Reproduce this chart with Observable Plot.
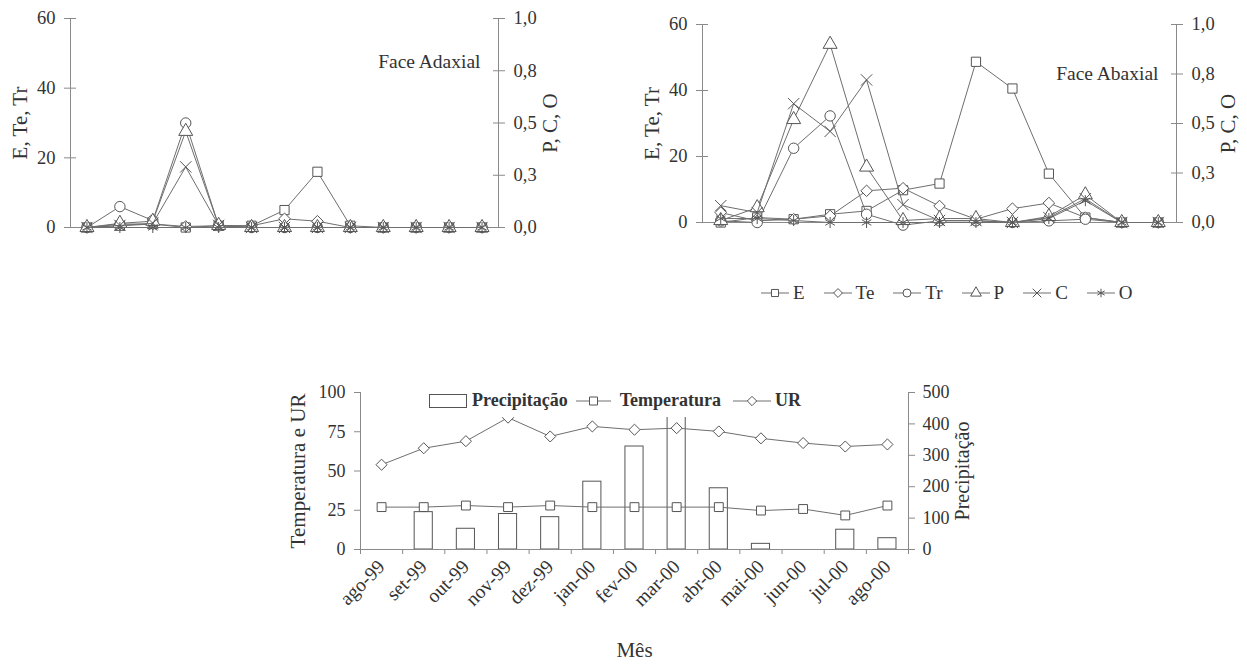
<!DOCTYPE html>
<html><head><meta charset="utf-8">
<script src="https://cdn.jsdelivr.net/npm/d3@7"></script>
<script src="https://cdn.jsdelivr.net/npm/@observablehq/plot@0.6"></script>
<style>
html,body{margin:0;padding:0;background:#fff;}
#root{position:relative;width:1247px;height:671px;overflow:hidden;background:#fff;font-family:"Liberation Serif","Times New Roman",serif;color:#333;}
.legend{position:absolute;display:flex;align-items:center;white-space:nowrap;}
.legend svg{display:block;flex:none;}
</style></head><body><div id="root"></div>
<script>
// ---------- data ----------
const months = ["ago-99","set-99","out-99","nov-99","dez-99","jan-00","fev-00","mar-00","abr-00","mai-00","jun-00","jul-00","ago-00"];
const seriesNames = ["E","Te","Tr","P","C","O"];
const seriesSymbols = ["square","diamond2","circle","triangle","times","asterisk"];
const leftTicks = [0, 20, 40, 60];
const rightTicks = [0, 0.25, 0.5, 0.75, 1];
const rightTickLabels = ["0,0","0,3","0,5","0,8","1,0"];

// Face Adaxial: E, Te, Tr (left axis); P, C, O (right axis)
const adE  = [0, 0.5, 1, 0, 0.5, 0.5, 5, 16, 0.5, 0, 0, 0, 0];
const adTe = [0, 1, 1, 0.3, 0.5, 0.5, 2.5, 1.8, 0, 0, 0, 0, 0];
const adTr = [0, 6, 2, 30, 0.5, 0, 0, 0, 0, 0, 0, 0, 0];
const adP  = [0, 0.02, 0.03, 0.46, 0.01, 0, 0, 0, 0, 0, 0, 0, 0];
const adC  = [0, 0.01, 0.02, 0.29, 0.01, 0, 0, 0, 0, 0, 0, 0, 0];
const adO  = [0, 0, 0, 0, 0, 0, 0, 0, 0, 0, 0, 0, 0];

// Face Abaxial
const abE  = [0, 1.5, 1, 2.5, 3.5, 9.8, 11.8, 48.7, 40.6, 14.8, 1.5, 0, 0];
const abTe = [3, 0.5, 1, 2, 9.6, 10.4, 5, 1, 4.2, 5.9, 1.5, 0, 0];
const abTr = [0.5, 0, 22.5, 32.3, 2.5, -0.8, 0.5, 0.5, 0, 0.5, 1, 0, 0];
const abP  = [0.01, 0.075, 0.52, 0.90, 0.28, 0.01, 0.02, 0.02, 0, 0.03, 0.14, 0, 0];
const abC  = [0.085, 0.05, 0.60, 0.46, 0.72, 0.09, 0.01, 0.01, 0, 0.025, 0.12, 0, 0];
const abO  = [0.02, 0.02, 0.01, 0, 0, 0, 0, 0, 0, 0.02, 0.11, 0, 0];

// Clima
const climTicks = [0, 25, 50, 75, 100];
const precTicks = [0, 100, 200, 300, 400, 500];
const ur   = [54, 64.5, 69, 84, 72, 78.4, 76.3, 77.3, 75.2, 70.8, 67.8, 65.6, 66.9];
const temp = [27, 27, 28, 27, 28, 27, 27, 27, 27, 24.8, 25.8, 21.7, 28];
const prec = [0, 119, 66, 113, 103, 216, 328, 440, 195, 18, 0, 63, 36];

// ---------- style ----------
const INK = "#333", LINE = "#6e6e6e", MARK = "#555", AXIS = "#8a8a8a";
const FONT = '"Liberation Serif","Times New Roman",serif';
const strokeOnly = new Set(["times","asterisk"]);
const root = document.getElementById("root");
const idx = months.map((_, i) => i);
const xDomain = [-0.5, months.length - 0.5];

function place(node, left, top) {
  node.style.position = "absolute";
  node.style.left = left + "px";
  node.style.top = top + "px";
  root.appendChild(node);
}

function crossAxisY(anchor, ticks, fmt, fontSize) {
  return [
    Plot.axisY({anchor, ticks, tickSize: 6, tickPadding: 9, tickFormat: fmt, stroke: AXIS, fill: INK, fontSize, label: null}),
    Plot.axisY({anchor, ticks, tickSize: 6, dx: anchor === "left" ? 6 : -6, tickFormat: () => "", stroke: AXIS, label: null})
  ];
}

function topPanel(vals, note, o) {
  const k = leftTicks[leftTicks.length - 1] / rightTicks[rightTicks.length - 1];
  const rightMap = new Map(rightTicks.map((t, i) => [t * k, rightTickLabels[i]]));
  const marks = [
    Plot.ruleY([0], {stroke: AXIS}),
    Plot.ruleX([xDomain[0]], {stroke: AXIS}),
    Plot.ruleX([xDomain[1]], {stroke: AXIS}),
    ...crossAxisY("left", leftTicks, d => String(d), 18.5),
    ...crossAxisY("right", rightTicks.map(t => t * k), d => rightMap.get(d), 18.5)
  ];
  seriesNames.forEach((name, s) => {
    const f = s < 3 ? 1 : k;
    const data = vals[s].map((v, i) => ({i, v: v * f}));
    marks.push(Plot.line(data, {x: "i", y: "v", stroke: LINE, strokeWidth: 1}));
    marks.push(Plot.dot(data, {x: "i", y: "v", symbol: seriesSymbols[s], r: 5.2, stroke: MARK, strokeWidth: 1,
      fill: strokeOnly.has(seriesSymbols[s]) ? "none" : "white"}));
  });
  marks.push(Plot.text([note], {text: d => d, frameAnchor: "top-right", textAnchor: "end", lineAnchor: "middle", dx: -18, dy: o.noteDy, fontSize: 19.5, fill: INK}));
  marks.push(Plot.text(["E, Te, Tr"], {text: d => d, frameAnchor: "left", textAnchor: "middle", lineAnchor: "middle", dx: -50, rotate: -90, fontSize: 21, fill: INK}));
  marks.push(Plot.text(["P, C, O"], {text: d => d, frameAnchor: "right", textAnchor: "middle", lineAnchor: "middle", dx: 52, rotate: -90, fontSize: 21, fill: INK}));
  return Plot.plot({
    width: o.width, height: o.height,
    marginLeft: o.mL, marginRight: o.mR, marginTop: o.mT, marginBottom: o.mB,
    x: {domain: xDomain, axis: null},
    y: {domain: [leftTicks[0], leftTicks[leftTicks.length - 1]], axis: null},
    style: {fontFamily: FONT, fontSize: "18px", color: INK, background: "transparent", overflow: "visible"},
    marks
  });
}

place(topPanel([adE, adTe, adTr, adP, adC, adO], "Face Adaxial",
  {width: 560, height: 250, mL: 70, mR: 62, mT: 18, mB: 23, noteDy: 43}), 0, 0);
place(topPanel([abE, abTe, abTr, abP, abC, abO], "Face Abaxial",
  {width: 627, height: 250, mL: 82, mR: 71, mT: 24, mB: 28, noteDy: 49}), 620, 0);

// ---------- climate panel ----------
(function () {
  const kP = climTicks[climTicks.length - 1] / precTicks[precTicks.length - 1];
  const precMap = new Map(precTicks.map(t => [t * kP, String(t)]));
  const bars = prec.map((v, i) => ({i, v: v * kP}));
  const tData = temp.map((v, i) => ({i, v}));
  const uData = ur.map((v, i) => ({i, v}));
  const bounds = [...idx, months.length].map(i => i - 0.5);
  const svg = Plot.plot({
    width: 720, height: 295,
    marginLeft: 90, marginRight: 82, marginTop: 20, marginBottom: 118,
    x: {domain: xDomain, axis: null},
    y: {domain: [0, 100], axis: null},
    style: {fontFamily: FONT, fontSize: "17px", color: INK, background: "transparent", overflow: "visible"},
    marks: [
      Plot.rectY(bars, {x1: d => d.i - 0.215, x2: d => d.i + 0.215, y: "v", fill: "white", stroke: MARK, strokeWidth: 1}),
      Plot.ruleY([0], {stroke: AXIS}),
      Plot.ruleX([xDomain[0]], {stroke: AXIS}),
      Plot.ruleX([xDomain[1]], {stroke: AXIS}),
      Plot.axisY({anchor: "left", ticks: climTicks, tickSize: 6, tickPadding: 9, stroke: AXIS, fill: INK, fontSize: 18, label: null}),
      Plot.axisY({anchor: "right", ticks: precTicks.map(t => t * kP), tickFormat: d => precMap.get(d), tickSize: 6, tickPadding: 8, stroke: AXIS, fill: INK, fontSize: 18, label: null}),
      Plot.axisX({anchor: "bottom", ticks: bounds, tickSize: 5, tickFormat: () => "", stroke: AXIS, label: null}),
      Plot.axisX({anchor: "bottom", ticks: idx, tickSize: 0, tickPadding: 14, tickRotate: -45, tickFormat: i => months[i], fill: INK, fontSize: 19.5, label: null}),
      Plot.line(tData, {x: "i", y: "v", stroke: LINE, strokeWidth: 1}),
      Plot.dot(tData, {x: "i", y: "v", symbol: "square", r: 5, stroke: MARK, strokeWidth: 1, fill: "white"}),
      Plot.line(uData, {x: "i", y: "v", stroke: LINE, strokeWidth: 1}),
      Plot.dot(uData, {x: "i", y: "v", symbol: "diamond2", r: 5, stroke: MARK, strokeWidth: 1, fill: "white"}),
      Plot.text(["Temperatura e UR"], {text: d => d, frameAnchor: "left", textAnchor: "middle", lineAnchor: "middle", dx: -62, rotate: -90, fontSize: 21, fill: INK}),
      Plot.text(["Precipitação"], {text: d => d, frameAnchor: "right", textAnchor: "middle", lineAnchor: "middle", dx: 54, rotate: -90, fontSize: 20, fill: INK}),
      Plot.text(["Mês"], {text: d => d, frameAnchor: "bottom", lineAnchor: "middle", dy: 101, fontSize: 21, fill: INK})
    ]
  });
  place(svg, 270, 372);
})();

// ---------- legends ----------
const symTypes = {
  square: d3.symbolSquare, diamond2: d3.symbolDiamond2 || d3.symbolDiamond, circle: d3.symbolCircle,
  triangle: d3.symbolTriangle, times: d3.symbolTimes || d3.symbolCross, asterisk: d3.symbolAsterisk || d3.symbolStar
};
function icon(kind, w, h, size) {
  const svg = d3.create("svg").attr("width", w).attr("height", h);
  if (kind === "bar") {
    svg.append("rect").attr("x", 0.5).attr("y", 0.5).attr("width", w - 1).attr("height", h - 1)
      .attr("fill", "white").attr("stroke", MARK);
  } else {
    svg.append("line").attr("x1", 0).attr("x2", w).attr("y1", h / 2).attr("y2", h / 2).attr("stroke", LINE);
    svg.append("path").attr("transform", `translate(${w / 2},${h / 2})`)
      .attr("d", d3.symbol(symTypes[kind], size)())
      .attr("fill", strokeOnly.has(kind) ? "none" : "white").attr("stroke", MARK);
  }
  return svg.node();
}
function span(text, style) {
  const s = document.createElement("span");
  s.textContent = text;
  Object.assign(s.style, style);
  return s;
}

// top-right legend
(function () {
  const lg = document.createElement("div");
  lg.className = "legend";
  lg.style.fontSize = "19px";
  lg.style.height = "20px";
  seriesNames.forEach((name, s) => {
    lg.appendChild(icon(seriesSymbols[s], 28, 16, 50));
    lg.appendChild(span(name, {marginLeft: "4px", marginRight: s < seriesNames.length - 1 ? "19px" : "0"}));
  });
  place(lg, 761, 283);
})();

// climate legend
(function () {
  const lg = document.createElement("div");
  lg.className = "legend";
  Object.assign(lg.style, {fontSize: "18px", fontWeight: "bold", height: "33px", background: "white", paddingLeft: "7px", paddingRight: "8px"});
  lg.appendChild(icon("bar", 38, 14, 0));
  lg.appendChild(span("Precipitação", {marginLeft: "5px", marginRight: "8px"}));
  lg.appendChild(icon("square", 35, 16, 64));
  lg.appendChild(span("Temperatura", {marginLeft: "9px", marginRight: "12px"}));
  lg.appendChild(icon("diamond2", 38, 16, 56));
  lg.appendChild(span("UR", {marginLeft: "4px"}));
  place(lg, 422, 384);
})();
</script></body></html>
